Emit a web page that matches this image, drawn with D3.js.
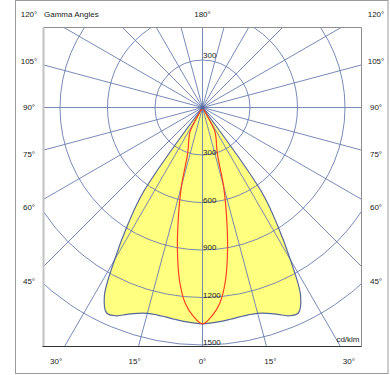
<!DOCTYPE html>
<html><head><meta charset="utf-8">
<script src="https://cdn.jsdelivr.net/npm/d3@7"></script>
<style>
html,body{margin:0;padding:0;background:#fff;}
svg{display:block;}
text{font-family:"Liberation Sans",Arial,Helvetica,sans-serif;font-size:8px;fill:#1a1a1a;}
</style></head><body>
<svg id="c" width="390" height="375"></svg>
<script>
// ---- data ----
const gammaAngles   = [0,2.5,5,7.5,10,12.5,15,17.5,20,22.5,25,27.5,30,32.5,35,37.5,40,45,60,90,120,150,180];
const intensityC0   = [1367,1362,1356,1349,1343,1341,1346,1363,1390,1424,1432,1342,1110,880,650,0,0,0,0,0,0,0,0];
const intensityC90  = [1367,1320,1243,1107,912,701,513,320,260,228,198,168,0,0,0,0,0,0,0,0,0,0,0];
const radialTicks   = [300,600,900,1200,1500];
const topRadialTick = 300;
const gridAngles    = d3.range(0,360,15);
const sideAngleLabels = [15,30,45,60,75,90,105,120];
const centerAngleLabels = [0,180];
const titleLabel = "Gamma Angles";
const unitLabel  = "cd/klm";

// ---- layout ----
const svg = d3.select("#c");
const cx = 202.5, cy = 107.5;
const plot = {x0:43.5, y0:27.5, x1:361.5, y1:346.5};
const lbl  = {x0:29, x1:376, y0:14.5, y1:361};
const r = d3.scaleLinear().domain([0,1500]).range([0,237.5]);
const rad = d => d*Math.PI/180;

// outer frame
svg.append("rect").attr("x",15.5).attr("y",0.5).attr("width",372.5).attr("height",373)
  .attr("fill","none").attr("stroke","#9a9a9a").attr("stroke-width",1);

svg.append("clipPath").attr("id","clip").append("rect")
  .attr("x",plot.x0).attr("y",plot.y0).attr("width",plot.x1-plot.x0).attr("height",plot.y1-plot.y0);

const g = svg.append("g").attr("clip-path","url(#clip)");
const gc = g.append("g").attr("transform",`translate(${cx},${cy})`);

function mirrored(vals){
  const left = gammaAngles.map((a,i)=>[-a, vals[i]]).reverse();
  const right = gammaAngles.slice(1).map((a,i)=>[a, vals[i+1]]);
  return left.concat(right);
}
const radial = d3.lineRadial()
  .angle(d => Math.PI - rad(d[0]))
  .radius(d => r(d[1]))
  .curve(d3.curveCatmullRomClosed.alpha(0.5));

// yellow fill
gc.append("path").attr("d", radial(mirrored(intensityC0)))
  .attr("fill","#ffff80").attr("stroke","none");

// grid
const gridColor = "#6a7daf";
gc.selectAll("circle.grid").data(radialTicks).join("circle")
  .attr("class","grid").attr("r", d=>r(d)).attr("fill","none")
  .attr("stroke",gridColor).attr("stroke-width",0.9);
gc.selectAll("line.grid").data(gridAngles).join("line")
  .attr("class","grid")
  .attr("x1",0).attr("y1",0)
  .attr("x2", d => -600*Math.sin(rad(d)))
  .attr("y2", d => 600*Math.cos(rad(d)))
  .attr("stroke",gridColor).attr("stroke-width",0.9);

// outlines
gc.append("path").attr("d", radial(mirrored(intensityC0)))
  .attr("fill","none").attr("stroke","#56679a").attr("stroke-width",1.2).attr("stroke-linejoin","round");
gc.append("path").attr("d", radial(mirrored(intensityC90)))
  .attr("fill","none").attr("stroke","#ff3f1f").attr("stroke-width",1.2).attr("stroke-linejoin","round");
gc.append("circle").attr("r",2).attr("fill","#5366a0");

// plot frame
svg.append("line").attr("x1",plot.x0).attr("x2",plot.x1).attr("y1",plot.y0).attr("y2",plot.y0).attr("stroke","#8e8e8e");
svg.append("line").attr("x1",plot.x1).attr("x2",plot.x1).attr("y1",plot.y0).attr("y2",plot.y1).attr("stroke","#8e8e8e");
svg.append("line").attr("x1",plot.x0).attr("x2",plot.x0).attr("y1",plot.y0).attr("y2",plot.y1).attr("stroke","#c2c2c2").attr("stroke-width",2);
svg.append("line").attr("x1",plot.x0-1).attr("x2",plot.x1).attr("y1",plot.y1).attr("y2",plot.y1).attr("stroke","#333").attr("stroke-width",1.2);

// radial value labels
svg.selectAll("text.rv").data(radialTicks).join("text").attr("class","rv")
  .attr("x",cx+0.5).attr("y",d=>cy + r(d)).text(d=>d);
svg.append("text").attr("x",cx+0.5).attr("y",cy - r(topRadialTick) - 2).text(topRadialTick);

// angle labels
function labelPos(a, s){
  const dx = s*Math.sin(rad(a)), dy = Math.cos(rad(a));
  const sideX = s<0 ? lbl.x0 : lbl.x1;
  if (Math.abs(dx) > 1e-6){
    const t = Math.abs(sideX - cx)/Math.abs(dx);
    const y = cy + dy*t;
    if (y < lbl.y0) return [sideX, lbl.y0];
    if (y <= lbl.y1) return [sideX, y];
  }
  const t = (lbl.y1 - cy)/dy;
  return [cx + dx*t, lbl.y1];
}
const angLabels = [];
sideAngleLabels.forEach(a => { angLabels.push({a, p:labelPos(a,-1)}); angLabels.push({a, p:labelPos(a,1)}); });
angLabels.push({a:centerAngleLabels[0], p:[cx, lbl.y1]});
angLabels.push({a:centerAngleLabels[1], p:[cx, lbl.y0]});
svg.selectAll("text.ang").data(angLabels).join("text").attr("class","ang")
  .attr("x",d=>d.p[0]).attr("y",d=>d.p[1]).attr("dy","0.35em")
  .attr("text-anchor","middle").text(d=>d.a+"°");

svg.append("text").attr("x",44).attr("y",lbl.y0).attr("dy","0.35em").text(titleLabel);
svg.append("text").attr("x",359.5).attr("y",342.3).attr("text-anchor","end").text(unitLabel);
</script>
</body></html>
